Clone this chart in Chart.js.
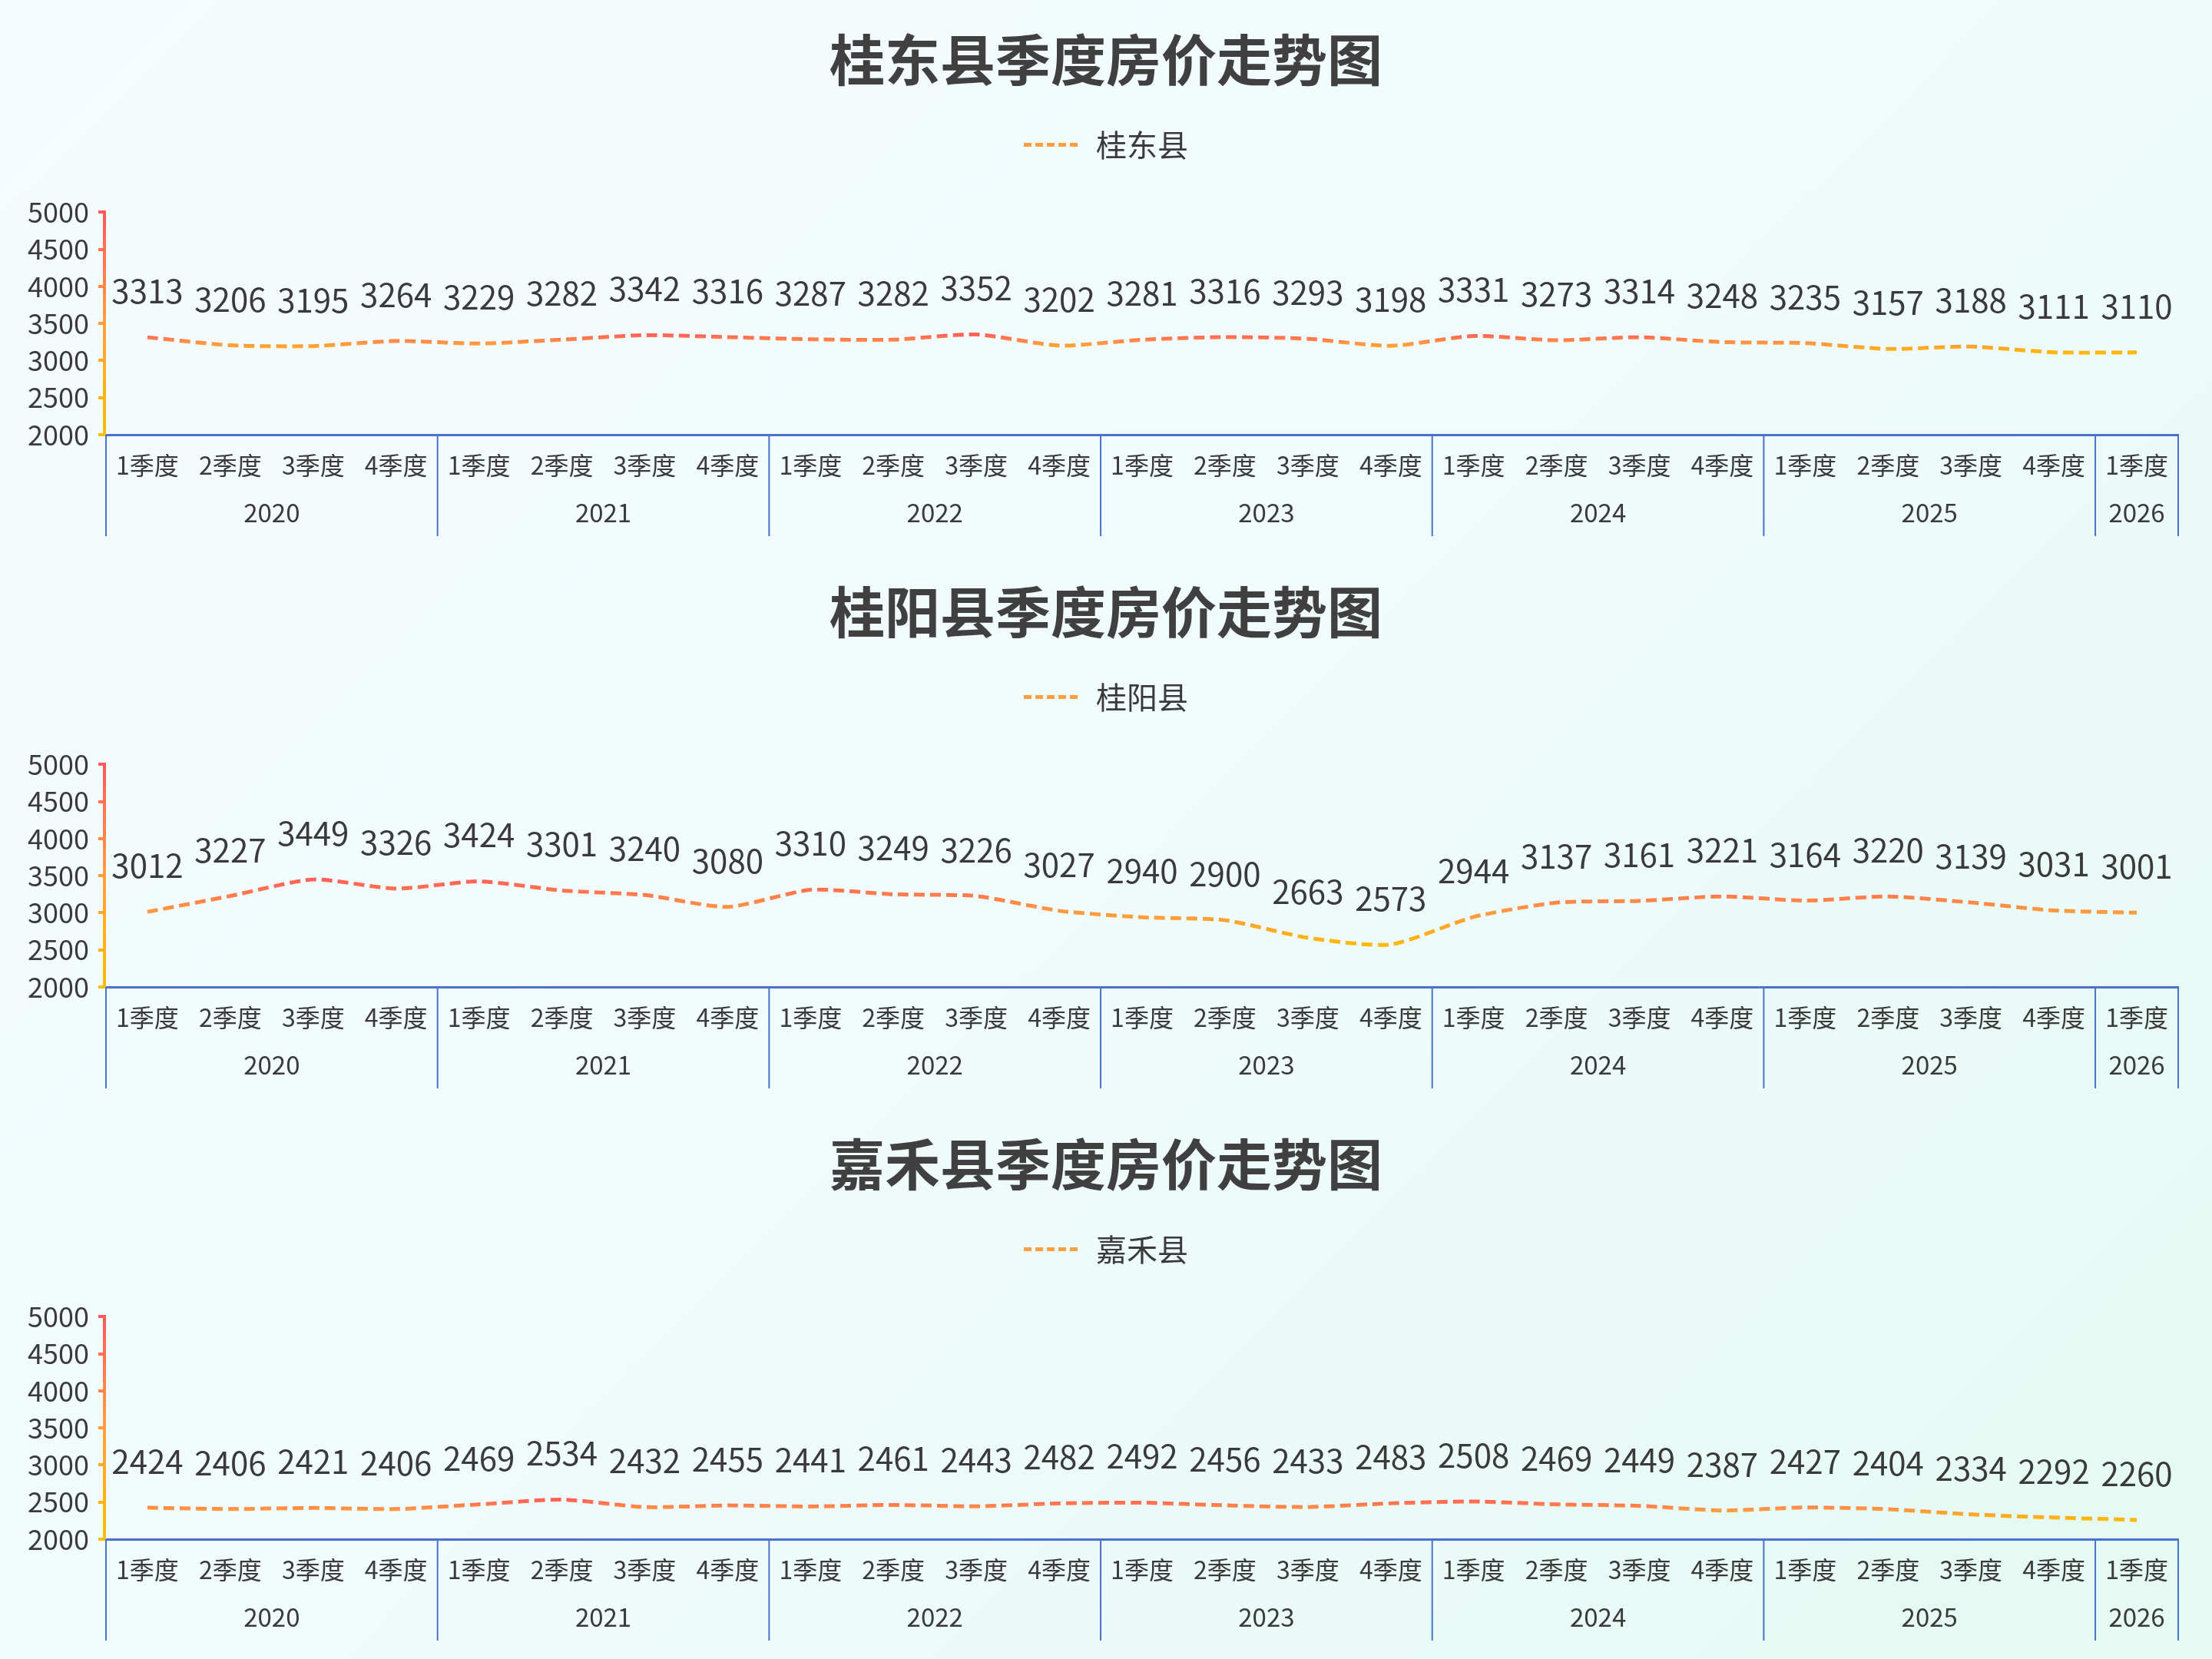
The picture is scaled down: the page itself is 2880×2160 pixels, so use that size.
<!DOCTYPE html>
<html lang="zh-CN">
<head>
<meta charset="utf-8">
<title>季度房价走势图</title>
<script src="https://cdn.jsdelivr.net/npm/chart.js@4.4.1/dist/chart.umd.min.js"></script>
<style>
    html, body {
        margin: 0;
        padding: 0;
    }
    body {
        width: 2880px;
        height: 2160px;
        overflow: hidden;
        background: linear-gradient(135deg, #f5fbfe 0%, #f0fbfc 50%, #e4faf3 100%);
        font-family: "Noto Sans CJK SC", sans-serif;
    }
    .chart-box {
        position: relative;
        width: 2880px;
        height: 719px;
    }
</style>
</head>
<body>
<div class="chart-box"><canvas id="chartGuidong"></canvas></div>
<div class="chart-box"><canvas id="chartGuiyang"></canvas></div>
<div class="chart-box"><canvas id="chartJiahe"></canvas></div>

<script>
const quarterLabels = [
    '1季度', '2季度', '3季度', '4季度',
    '1季度', '2季度', '3季度', '4季度',
    '1季度', '2季度', '3季度', '4季度',
    '1季度', '2季度', '3季度', '4季度',
    '1季度', '2季度', '3季度', '4季度',
    '1季度', '2季度', '3季度', '4季度',
    '1季度'
];
const years = ['2020', '2021', '2022', '2023', '2024', '2025', '2026'];
const quartersPerYear = [4, 4, 4, 4, 4, 4, 1];

const guidongPrices = [
    3313, 3206, 3195, 3264, 3229, 3282, 3342, 3316, 3287, 3282, 3352, 3202,
    3281, 3316, 3293, 3198, 3331, 3273, 3314, 3248, 3235, 3157, 3188, 3111, 3110
];
const guiyangPrices = [
    3012, 3227, 3449, 3326, 3424, 3301, 3240, 3080, 3310, 3249, 3226, 3027,
    2940, 2900, 2663, 2573, 2944, 3137, 3161, 3221, 3164, 3220, 3139, 3031, 3001
];
const jiahePrices = [
    2424, 2406, 2421, 2406, 2469, 2534, 2432, 2455, 2441, 2461, 2443, 2482,
    2492, 2456, 2433, 2483, 2508, 2469, 2449, 2387, 2427, 2404, 2334, 2292, 2260
];

const yMin = 2000;
const yMax = 5000;
const yStep = 500;

const textColor = '#3a3a3a';
const axisBlue = '#4a72cc';
const fontFamily = '"Noto Sans CJK SC", "Noto Sans", sans-serif';

/**
 * Mixes two hex colours.
 * @param {string} a - first colour.
 * @param {string} b - second colour.
 * @param {number} t - 0..1.
 */
function mix(a, b, t) {
    const pa = [1, 3, 5].map(i => parseInt(a.substr(i, 2), 16));
    const pb = [1, 3, 5].map(i => parseInt(b.substr(i, 2), 16));
    const c = pa.map((v, i) => Math.round(v + (pb[i] - v) * t));
    return `rgb(${c[0]},${c[1]},${c[2]})`;
}

// red at the top, amber at the bottom
function warmColor(t) {
    if (t < 0.5) return mix('#ff5a5a', '#ff9f40', t * 2);
    return mix('#ff9f40', '#ffbe00', (t - 0.5) * 2);
}

function lineGradient(context) {
    const chart = context.chart;
    const {ctx, chartArea, scales} = chart;
    if (!chartArea || !scales.y) return '#ff9f40';
    const values = chart.data.datasets[0].data;
    const top = scales.y.getPixelForValue(Math.max(...values));
    const bottom = scales.y.getPixelForValue(Math.min(...values));
    const g = ctx.createLinearGradient(0, top, 0, bottom + 0.1);
    g.addColorStop(0, '#ff6158');
    g.addColorStop(0.5, '#ff9a42');
    g.addColorStop(1, '#ffb90a');
    return g;
}

const legendGap = {
    id: 'legendGap',
    beforeInit(chart) {
        const fit = chart.legend.fit;
        chart.legend.fit = function () {
            fit.bind(chart.legend)();
            this.height += 58;
        };
    }
};

// gradient y axis line
const yAxisLine = {
    id: 'yAxisLine',
    afterDraw(chart) {
        const {ctx, scales} = chart;
        const y = scales.y;
        const g = ctx.createLinearGradient(0, y.top, 0, y.bottom);
        g.addColorStop(0, '#ff5a5a');
        g.addColorStop(0.5, '#ff9f40');
        g.addColorStop(1, '#ffbe00');
        ctx.save();
        ctx.strokeStyle = g;
        ctx.lineWidth = 4;
        ctx.beginPath();
        ctx.moveTo(y.right - 2, y.top - 2);
        ctx.lineTo(y.right - 2, y.bottom + 2);
        ctx.stroke();
        ctx.restore();
    }
};

// year row under the quarter labels
const yearRow = {
    id: 'yearRow',
    afterDraw(chart) {
        const {ctx, scales} = chart;
        const x = scales.x;
        const half = (x.getPixelForValue(1) - x.getPixelForValue(0)) / 2;
        ctx.save();
        ctx.strokeStyle = axisBlue;
        ctx.lineWidth = 2;
        ctx.fillStyle = textColor;
        ctx.font = `33px ${fontFamily}`;
        ctx.textAlign = 'center';
        ctx.textBaseline = 'middle';

        let start = 0;
        const left0 = x.getPixelForValue(0) - half;
        ctx.beginPath();
        ctx.moveTo(left0, x.top);
        ctx.lineTo(left0, x.bottom);
        ctx.stroke();
        years.forEach((year, i) => {
            const end = start + quartersPerYear[i];
            const left = x.getPixelForValue(start) - half;
            const right = x.getPixelForValue(end - 1) + half;
            ctx.beginPath();
            ctx.moveTo(right, x.top);
            ctx.lineTo(right, x.bottom);
            ctx.stroke();
            ctx.fillText(year, (left + right) / 2, x.top + 101);
            start = end;
        });
        ctx.restore();
    }
};

// value labels above each point
const valueLabels = {
    id: 'valueLabels',
    afterDatasetsDraw(chart) {
        const {ctx} = chart;
        const meta = chart.getDatasetMeta(0);
        const values = chart.data.datasets[0].data;
        ctx.save();
        ctx.fillStyle = textColor;
        ctx.font = `42px ${fontFamily}`;
        ctx.textAlign = 'center';
        ctx.textBaseline = 'middle';
        meta.data.forEach((pt, i) => {
            ctx.fillText(String(values[i]), pt.x, pt.y - 60);
        });
        ctx.restore();
    }
};

/**
 * Draws one county chart.
 * @param {string} element - canvas id.
 * @param {string} name - county name.
 * @param {number[]} prices - quarterly prices.
 */
function displayCountyChart(element, name, prices) {
    const config = {
        type: 'line',
        data: {
            labels: quarterLabels,
            datasets: [
                {
                    label: name,
                    data: prices,
                    borderColor: lineGradient,
                    borderWidth: 5,
                    borderDash: [14, 7],
                    tension: 0.22,
                    pointRadius: 0,
                    pointHoverRadius: 0,
                    fill: false
                }
            ]
        },
        options: {
            responsive: true,
            maintainAspectRatio: false,
            animation: false,
            devicePixelRatio: 1,
            layout: {
                padding: {top: 0, left: 0, right: 0, bottom: 21}
            },
            plugins: {
                title: {
                    display: true,
                    text: name + '季度房价走势图',
                    color: '#404040',
                    font: {family: fontFamily, size: 72, weight: 'bold'},
                    padding: {top: 34, bottom: 38}
                },
                legend: {
                    display: true,
                    labels: {
                        usePointStyle: true,
                        pointStyleWidth: 74,
                        color: textColor,
                        font: {family: fontFamily, size: 40},
                        padding: 10,
                        generateLabels: () => [{
                            text: name,
                            fillStyle: 'rgba(0,0,0,0)',
                            strokeStyle: '#ffa040',
                            lineWidth: 5,
                            lineDash: [10, 5],
                            pointStyle: 'line',
                            hidden: false,
                            datasetIndex: 0,
                            fontColor: textColor
                        }]
                    }
                },
                tooltip: {enabled: false}
            },
            scales: {
                x: {
                    type: 'category',
                    offset: true,
                    grid: {display: false, drawTicks: false},
                    border: {display: true, color: axisBlue, width: 3},
                    ticks: {
                        color: textColor,
                        font: {family: fontFamily, size: 32},
                        padding: 21,
                        autoSkip: false,
                        maxRotation: 0
                    },
                    afterFit(scale) {
                        scale.height = 132;
                    }
                },
                y: {
                    min: yMin,
                    max: yMax,
                    grid: {
                        drawOnChartArea: false,
                        drawTicks: true,
                        tickLength: 10,
                        lineWidth: 4,
                        color: c => warmColor((yMax - c.tick.value) / (yMax - yMin))
                    },
                    border: {display: false},
                    ticks: {
                        stepSize: yStep,
                        color: textColor,
                        font: {family: fontFamily, size: 36},
                        padding: 12,
                        callback: value => String(value)
                    },
                    afterFit(scale) {
                        scale.width = 138;
                    }
                },
                // empty strip on the right so title and legend stay centred
                yRight: {
                    position: 'right',
                    min: yMin,
                    max: yMax,
                    grid: {display: false, drawTicks: false},
                    border: {display: false},
                    ticks: {display: false},
                    afterFit(scale) {
                        scale.width = 44;
                    }
                }
            }
        },
        plugins: [legendGap, yAxisLine, yearRow, valueLabels]
    };

    new Chart(document.getElementById(element), config);
}

displayCountyChart('chartGuidong', '桂东县', guidongPrices);
displayCountyChart('chartGuiyang', '桂阳县', guiyangPrices);
displayCountyChart('chartJiahe', '嘉禾县', jiahePrices);
</script>
</body>
</html>
